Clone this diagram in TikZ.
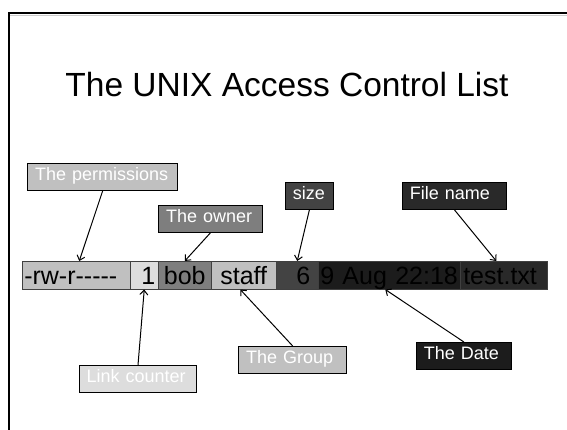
\documentclass[tikz,border=0pt]{standalone}
\usepackage{fontspec}
\setmainfont{Liberation Sans}
\usetikzlibrary{arrows.meta}

% grey shades of the fields and their callouts
\definecolor{gA}{HTML}{C0C0C0}
\definecolor{gB}{HTML}{DDDDDD}
\definecolor{gC}{HTML}{7E7E7E}
\definecolor{gD}{HTML}{434343}
\definecolor{gE}{HTML}{1C1C1C}
\definecolor{gF}{HTML}{292929}

% a lone hyphen, kept apart so that runs of them stay hyphens
\newcommand\hyph{\mbox{-}}

\begin{document}
\begin{tikzpicture}[x=1pt,y=-1pt,
  field/.style={draw=black!75, line width=0.5pt, anchor=north west,
    inner ysep=0pt, text height=23.5pt, text depth=4.5pt,
    font=\fontsize{25}{28}\selectfont, text=black},
  callout/.style={draw=black, line width=0.8pt, anchor=north west,
    inner ysep=0pt, inner xsep=7.5pt, align=left,
    text height=17pt, text depth=10pt,
    font=\fontsize{18}{20}\selectfont, text=white},
  pointer/.style={draw=black, line width=1pt,
    -{Straight Barb[length=4.5pt,width=8pt]}}
]
\useasboundingbox (0,0) rectangle (567,429);

% slide frame
\draw[line width=2.2pt, line join=miter] (8.8,430) -- (8.8,13) -- (568,13);
\draw[black!20, line width=0.8pt] (10,15.3) -- (568,15.3);

% heading
\node[anchor=base, inner sep=0pt, font=\fontsize{33.5}{36}\selectfont] (title)
  at (287,96) {The UNIX Access Control List};

% the fields of one ls -l line
\node[field, fill=gA, text width=104pt, inner xsep=2pt, align=left]  (cperm)  at (22,261)
  {\hyph rw\hyph r\hyph\hyph\hyph\hyph\hyph};
\node[field, fill=gB, text width=22pt,  inner xsep=3pt, align=right] (ccount) at (130,261) {1};
\node[field, fill=gC, text width=49pt,  inner xsep=2pt, align=center](cowner) at (158,261) {bob};
\node[field, fill=gA, text width=61pt,  inner xsep=2pt, align=center](cgroup) at (211,261) {staff};
\node[field, fill=gD, text width=26pt,  inner xsep=8pt, align=right] (csize)  at (276,261) {6};
\node[field, fill=gE, text width=138pt, inner xsep=2pt, align=left]  (cdate)  at (318,261) {9 Aug 22:18};
\node[field, fill=gF, text width=81pt,  inner xsep=3pt, align=left]  (cname)  at (460,261) {test.txt};

% callouts above the line
\node[callout, fill=gA, text width=135pt] (lperm)  at (27.3,163)  {The permissions};
\node[callout, fill=gC, text width=88.5pt] (lowner) at (158.3,205) {The owner};
\node[callout, fill=gD, text width=33pt]  (lsize)  at (285,182)   {size};
\node[callout, fill=gF, text width=89pt]  (lname)  at (402,182)   {File name};

% callouts below the line
\node[callout, fill=gB, text width=102.6pt] (lcount) at (78.8,365)  {Link counter};
\node[callout, fill=gA, text width=93pt]    (lgroup) at (238.3,346) {The Group};
\node[callout, fill=gE, text width=80pt]    (ldate)  at (416,342)   {The Date};

% pointers from callouts to fields
\draw[pointer] (lperm.south)  -- ([xshift=3pt]cperm.north);
\draw[pointer] (lowner.south) -- (cowner.north);
\draw[pointer] (lsize.south)  -- (csize.north);
\draw[pointer] (lname.south)  -- ([xshift=-7.5pt]cname.north);
\draw[pointer] (lcount.north) -- (ccount.south);
\draw[pointer] (lgroup.north) -- ([xshift=-3.5pt]cgroup.south);
\draw[pointer] (ldate.north)  -- ([xshift=-4pt]cdate.south);
\end{tikzpicture}
\end{document}
